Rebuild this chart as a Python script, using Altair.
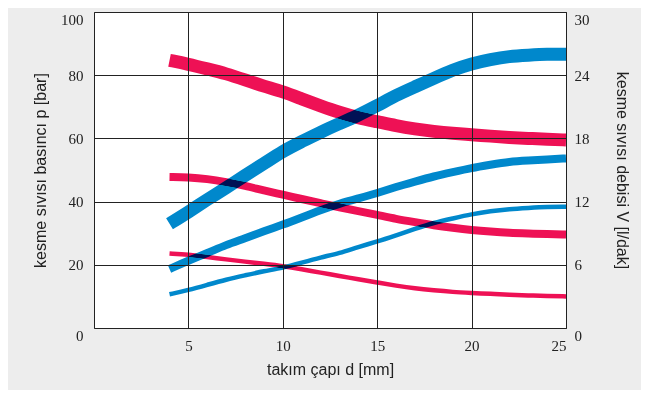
import altair as alt
import pandas as pd

d = [4, 5, 6, 7, 8, 9, 10, 11, 12, 13, 14, 15, 16, 17, 18, 19, 20, 21, 22, 23, 24, 25]

# pressure curves [bar] (left axis)
p_thick = [84.7, 83.5, 82.0, 80.5, 78.5, 76.5, 74.8, 72.5, 70.3, 68.2, 66.5, 65.3,
           64.0, 63.0, 62.2, 61.6, 61.2, 60.7, 60.3, 60.0, 59.7, 59.5]
p_medium = [47.8, 47.7, 47.2, 46.2, 45.0, 43.5, 42.2, 40.8, 39.5, 38.2, 37.0, 35.8,
            34.5, 33.5, 32.5, 31.7, 31.0, 30.5, 30.1, 29.9, 29.7, 29.6]
p_thin = [23.6, 23.2, 22.5, 21.7, 21.0, 20.3, 19.6, 18.6, 17.5, 16.5, 15.4, 14.4,
          13.4, 12.5, 11.9, 11.4, 11.1, 10.8, 10.5, 10.3, 10.1, 10.0]

# flow curves [l/dak] (right axis)
v_thick = [9.9, 11.0, 12.2, 13.3, 14.5, 15.6, 16.8, 17.7, 18.6, 19.4, 20.2, 21.1,
           22.1, 22.9, 23.7, 24.5, 25.1, 25.5, 25.8, 25.9, 26.0, 26.0]
v_medium = [5.6, 6.4, 7.1, 7.9, 8.5, 9.2, 9.8, 10.5, 11.2, 11.8, 12.3, 12.8,
            13.4, 13.9, 14.4, 14.8, 15.2, 15.5, 15.8, 15.9, 16.0, 16.1]
v_thin = [3.2, 3.6, 4.1, 4.6, 5.0, 5.4, 5.7, 6.2, 6.7, 7.1, 7.7, 8.2,
          8.8, 9.4, 10.0, 10.4, 10.8, 11.1, 11.3, 11.4, 11.5, 11.5]

x_ticks = [5, 10, 15, 20, 25]
left_ticks = [0, 20, 40, 60, 80, 100]
right_ticks = [0, 6, 12, 18, 24, 30]

RED = "#ee1155"
BLUE = "#0088cc"
LABEL_FONT = "Liberation Serif"
TITLE_FONT = "Liberation Sans"


def long(series_list):
    rows = []
    for name, vals, w in series_list:
        for xi, yi in zip(d, vals):
            rows.append({"d": xi, "v": yi, "series": name, "w": w})
    return pd.DataFrame(rows)


red_df = long([("thick", p_thick, 13), ("medium", p_medium, 8), ("thin", p_thin, 4.5)])
blue_df = long([("thick", v_thick, 13), ("medium", v_medium, 8), ("thin", v_thin, 4.5)])

x_enc = alt.X(
    "d:Q",
    scale=alt.Scale(domain=[0, 25], nice=False),
    axis=alt.Axis(
        values=x_ticks, title="takım çapı d [mm]", grid=True, gridColor="#222",
        gridOpacity=1, ticks=False, domain=False, labelFont=LABEL_FONT,
        labelFontSize=15, labelColor="#222", labelPadding=10,
        titleFont=TITLE_FONT, titleFontSize=16, titleFontWeight="normal",
        titleColor="#222", titlePadding=8, zindex=1,
    ),
)

left_baseline = {"condition": {"test": "datum.value == 100 || datum.value == 0", "value": "top"},
                 "value": "middle"}
right_baseline = {"condition": {"test": "datum.value == 30 || datum.value == 0", "value": "top"},
                  "value": "middle"}

red = alt.Chart(red_df).mark_line(color=RED, strokeCap="butt", interpolate="basis").encode(
    x=x_enc,
    y=alt.Y(
        "v:Q",
        scale=alt.Scale(domain=[0, 100], nice=False),
        axis=alt.Axis(
            values=left_ticks, title="kesme sıvısı basıncı p [bar]", orient="left",
            grid=True, gridColor="#222", gridOpacity=1, ticks=False, domain=False,
            labelFont=LABEL_FONT, labelFontSize=15, labelColor="#222", labelPadding=11,
            labelBaseline=left_baseline,
            titleFont=TITLE_FONT, titleFontSize=16, titleFontWeight="normal",
            titleColor="#222", titlePadding=12, zindex=1,
        ),
    ),
    detail="series:N",
    strokeWidth=alt.StrokeWidth("w:Q", scale=None),
)

blue = alt.Chart(blue_df).mark_line(color=BLUE, strokeCap="butt", interpolate="basis",
                                    blend="darken").encode(
    x=x_enc,
    y=alt.Y(
        "v:Q",
        scale=alt.Scale(domain=[0, 30], nice=False),
        axis=alt.Axis(
            values=right_ticks, title="kesme sıvısı debisi V [l/dak]", orient="right",
            grid=False, ticks=False, domain=False,
            labelFont=LABEL_FONT, labelFontSize=15, labelColor="#222", labelPadding=8,
            labelBaseline=right_baseline,
            titleFont=TITLE_FONT, titleFontSize=16, titleFontWeight="normal",
            titleColor="#222", titlePadding=24, titleAngle=90, zindex=1,
        ),
    ),
    detail="series:N",
    strokeWidth=alt.StrokeWidth("w:Q", scale=None),
)

chart = (
    alt.layer(red, blue)
    .resolve_scale(y="independent")
    .properties(
        width=472, height=316,
        background="#ededed",
        padding={"left": 86, "top": 4, "right": 75, "bottom": 62},
        autosize=alt.AutoSizeParams(type="none"),
    )
    .configure_view(fill="white", stroke="#222", strokeWidth=1)
)

chart.save("out.html", embed_options={"renderer": "svg", "actions": False})
